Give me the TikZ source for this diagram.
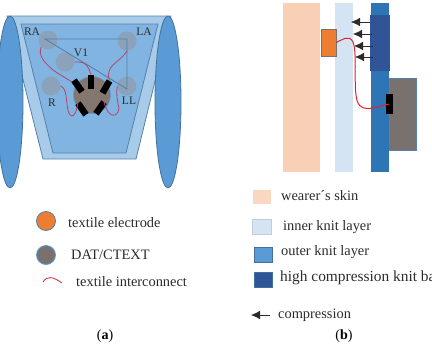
\documentclass[tikz,border=0pt]{standalone}
\usepackage{fontspec}
\setmainfont{Liberation Serif}
\usetikzlibrary{shapes.geometric,arrows.meta}
\definecolor{shellLight}{HTML}{A8CBEA}
\definecolor{shellMid}{HTML}{82B4E2}
\definecolor{shellEdge}{HTML}{5580AB}
\definecolor{armFill}{HTML}{5B9BD5}
\definecolor{armEdge}{HTML}{41719C}
\definecolor{padFill}{HTML}{8BA2BA}
\definecolor{hubFill}{HTML}{83776F}
\definecolor{wireDark}{HTML}{B5446A}
\definecolor{wireRed}{HTML}{E3202C}
\definecolor{skinCol}{HTML}{F9D0B5}
\definecolor{innerCol}{HTML}{D5E4F3}
\definecolor{outerCol}{HTML}{2E75B6}
\definecolor{bandCol}{HTML}{2F5597}
\definecolor{greyBox}{HTML}{78716E}
\definecolor{padOrange}{HTML}{ED7D31}
\definecolor{inkCol}{HTML}{2B2B2B}
\tikzset{
  x=1pt,y=-1pt,
  arm/.style={ellipse,draw=armEdge,fill=armFill,line width=0.8pt,minimum width=26pt,minimum height=172pt,inner sep=0pt},
  pad/.style={circle,fill=padFill,inner sep=0pt,minimum size=19pt},
  hubdisc/.style={circle,fill=hubFill,draw=armFill,line width=0.6pt,inner sep=0pt,minimum size=37pt},
  bar/.style={rectangle,fill=black,inner sep=0pt,minimum width=6.5pt,minimum height=14pt},
  wire/.style={draw=wireDark,line width=0.8pt},
  redwire/.style={draw=wireRed,line width=1pt},
  lbl/.style={font=\fontsize{14.4}{16}\selectfont,text=inkCol,inner sep=0pt,anchor=west},
  elec/.style={font=\fontsize{11.5}{13}\selectfont,text=inkCol,inner sep=0pt},
  captxt/.style={font=\fontsize{14}{16}\selectfont,text=black,inner sep=0pt},
  swatch/.style={rectangle,inner sep=0pt,anchor=north west,line width=0.5pt},
  ptr/.style={-{Latex[length=9pt,width=8.5pt]},draw=inkCol,line width=0.5pt}
}
\begin{document}
\begin{tikzpicture}
\useasboundingbox (0,0) rectangle (432,349);
\clip (0,0) rectangle (432,349);

% garment body
\draw[fill=shellLight,draw=shellEdge,line width=0.8pt] (7,16) -- (171,16) -- (136,159) -- (43,159) -- cycle;
\draw[fill=shellMid,draw=shellEdge,line width=0.8pt] (21,24) -- (158,24) -- (126,153) -- (53,153) -- cycle;
\node[arm] (armL) at (10,102) {};
\node[arm] (armR) at (168,102) {};

% electrodes
\node[pad] (ra) at (48,40) {};
\node[pad] (la) at (127,41) {};
\node[pad] (v1) at (65,62) {};
\node[pad] (r)  at (51,86) {};
\node[pad] (ll) at (127,86) {};

% lead triangle
\coordinate (tA) at (45,39);
\coordinate (tB) at (127,39);
\coordinate (tC) at (127,89);
\draw[draw=shellEdge,line width=0.9pt] (tA) -- (tB) -- (tC) -- cycle;

\node[elec] (raT) at (32,32) {RA};
\node[elec] (laT) at (144,32) {LA};
\node[elec] (v1T) at (81,53) {V1};
\node[elec] (rT)  at (52,103) {R};
\node[elec] (llT) at (129,101) {LL};

% acquisition unit with its contacts
\node[hubdisc] (hub) at (92,95) {};
\node[bar,rotate=35]  (b1) at (78,86) {};
\node[bar]            (b2) at (91,82) {};
\node[bar,rotate=-30] (b3) at (106,87) {};
\node[bar,rotate=-145] (b4) at (82,109) {};
\node[bar,rotate=145] (b5) at (100,108) {};

% interconnects
\draw[wire] (ra.south west) .. controls (38,56) and (44,62) .. (53,70) .. controls (60,75) and (66,78) .. (b1);
\draw[wire] (v1.east) .. controls (80,62) and (87,60) .. (b2.north);
\draw[wire] (la.south) .. controls (122,60) and (110,64) .. (109,72) .. controls (108,76) and (108,79) .. (b3.north);
\draw[wire] (ll.west) .. controls (116,92) and (117,100) .. (119,108) .. controls (118,118) and (108,119) .. (b5.south);
\draw[wire] (r.east) .. controls (66,88) and (66,96) .. (67,104) .. controls (68,118) and (75,122) .. (b4.south);

% legend of the garment view
\node[circle,fill=padOrange,draw=shellEdge,line width=0.8pt,minimum size=19pt,inner sep=0pt] (legOrange) at (46,221) {};
\node[circle,fill=greyBox,draw=armFill,line width=0.8pt,minimum size=19pt,inner sep=0pt] (legGrey) at (46,255) {};
\coordinate (legW1) at (43,282);
\coordinate (legW2) at (62,283);
\draw[redwire,line width=0.8pt] (legW1) .. controls (47,276) and (52,276) .. (legW2);
\node[lbl] (t1) at (68,223) {textile electrode};
\node[lbl] (t2) at (71,255) {DAT/CTEXT};
\node[lbl] (t3) at (76,282) {textile interconnect};
\node[captxt] (capA) at (105,336) {(\textbf{a})};

% layer section
\fill[skinCol] (283,3) rectangle (320,172);
\fill[innerCol] (335,3) rectangle (353,172);
\fill[outerCol] (371,3) rectangle (389,172);
\fill[bandCol] (370,15) rectangle (390,71);
\draw[fill=greyBox,draw=shellEdge,line width=0.8pt] (389,78) rectangle (416,150);
\node[rectangle,fill=padOrange,draw=greyBox,line width=0.8pt,minimum width=15pt,minimum height=27pt,inner sep=0pt] (sPad) at (328.5,42.5) {};
\node[rectangle,fill=black,minimum width=7pt,minimum height=20pt,inner sep=0pt] (sBar) at (389,104) {};

% compression arrows
\coordinate (a1s) at (370,22); \coordinate (a1e) at (351,22);
\coordinate (a2s) at (372,34); \coordinate (a2e) at (353,34);
\coordinate (a3s) at (373,46); \coordinate (a3e) at (354,46);
\coordinate (a4s) at (373,57); \coordinate (a4e) at (355,57);
\draw[ptr] (a1s) -- (a1e);
\draw[ptr] (a2s) -- (a2e);
\draw[ptr] (a3s) -- (a3e);
\draw[ptr] (a4s) -- (a4e);

\draw[redwire] (sPad.east) .. controls (342,40) and (349,34) .. (353,42) .. controls (357,52) and (354,80) .. (356,95) .. controls (358,115) and (372,108) .. (sBar.center);

% legend of the layer section
\node[swatch,fill=skinCol!85!white,minimum width=18pt,minimum height=14pt] (k1) at (253,190) {};
\node[swatch,fill=innerCol,draw=innerCol!90!black,minimum width=19pt,minimum height=15pt] (k2) at (252,219) {};
\node[swatch,fill=armFill,draw=armEdge,minimum width=18pt,minimum height=15pt] (k3) at (254,247) {};
\node[swatch,fill=bandCol,draw=armEdge,minimum width=18pt,minimum height=15pt] (k4) at (254,272) {};
\node[lbl] (t4) at (281,196) {wearer´s skin};
\node[lbl] (t5) at (283,227) {inner knit layer};
\node[lbl] (t6) at (281,252) {outer knit layer};
\node[lbl,font=\fontsize{15.4}{17}\selectfont] (t7) at (280,278) {high compression knit bar};
\coordinate (kAs) at (270,315);
\coordinate (kAe) at (251,315);
\draw[ptr] (kAs) -- (kAe);
\node[lbl] (t8) at (278,315) {compression};
\node[captxt] (capB) at (344,336) {(\textbf{b})};
\end{tikzpicture}
\end{document}
